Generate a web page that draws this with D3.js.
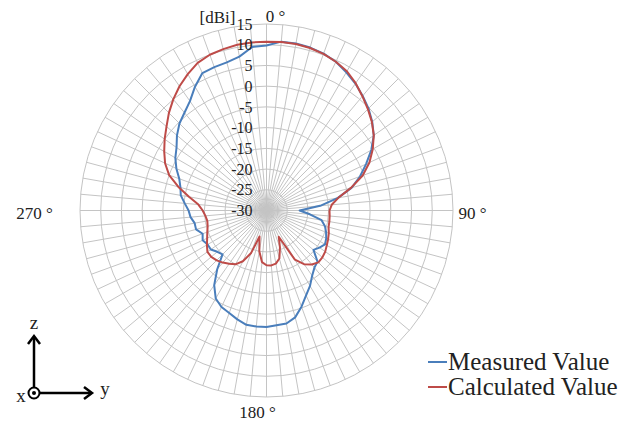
<!DOCTYPE html>
<html>
<head>
<meta charset="utf-8">
<script src="https://cdn.jsdelivr.net/npm/d3@7"></script>
<style>
  body { margin: 0; background: #fff; }
</style>
</head>
<body>
<svg id="pattern" width="642" height="427"></svg>
<script>
// angles in degrees, 0 = top, clockwise
const angles = d3.range(0, 360, 5);

const measured = [
  9.8, 10.9, 10.9, 10.7, 10.3, 9.6, 8.5, 7.4, 6.1, 4.8, 3.3, 1.6,
  -0.8, -3.5, -6.0, -8.7, -12.5, -17.0, -22.0, -19.5, -16.5, -15.4, -14.7, -14.1,
  -13.7, -14.4, -15.2, -12.6, -12.0, -10.8, -9.0, -7.4, -5.3, -3.3, -2.3, -2.2,
  -1.9, -1.9, -2.0, -2.8, -3.7, -4.3, -5.5, -8.0, -11.5, -15.0, -14.5, -13.6,
  -13.6, -13.0, -13.6, -12.4, -12.4, -11.6, -11.2, -10.2, -9.0, -8.5, -7.6, -6.0,
  -4.6, -3.5, -1.8, -0.3, 0.8, 2.2, 4.5, 6.6, 6.8, 7.0, 7.7, 9.6
];

const calculated = [
  10.7, 10.8, 10.8, 10.6, 10.2, 9.6, 8.8, 7.5, 6.0, 4.6, 3.2, 1.6,
  -0.4, -2.6, -5.3, -8.9, -12.4, -14.2, -14.8, -14.7, -14.6, -14.5, -14.0, -13.6,
  -13.2, -12.7, -12.4, -12.3, -13.0, -14.2, -16.3, -23.0, -20.5, -18.0, -17.0, -16.7,
  -16.8, -17.5, -20.0, -23.5, -19.0, -16.5, -15.0, -14.3, -13.6, -13.0, -12.6, -12.6,
  -13.4, -14.2, -14.8, -15.3, -15.5, -15.2, -14.6, -13.5, -11.0, -8.0, -5.0, -3.0,
  -1.5, 0.0, 1.5, 3.3, 5.0, 6.6, 8.0, 9.3, 10.0, 10.3, 10.6, 10.7
];

const rTicks = [-30, -25, -20, -15, -10, -5, 0, 5, 10, 15];
const angleLabels = [0, 90, 180, 270];
const seriesNames = ['Measured Value', 'Calculated Value'];
const seriesColors = ['#4a7ebb', '#be4b48'];

const cx = 266.5, cy = 210.5, outer = 186.5;
const font = "'Liberation Serif', 'Times New Roman', Times, serif";

const svg = d3.select('svg#pattern')
  .style('font-family', font);

const r = d3.scaleLinear().domain([-30, 15]).range([0, outer]);
const a = d3.scaleLinear().domain([0, 360]).range([0, 2 * Math.PI]);

const g = svg.append('g')
  .attr('transform', `translate(${cx},${cy})`);

// rings
g.selectAll('.ring')
  .data(rTicks.slice(1))
  .enter()
  .append('circle')
  .attr('class', 'ring')
  .attr('r', d => r(d))
  .attr('fill', 'none')
  .attr('stroke', '#c4c4c4')
  .attr('stroke-width', 1);

// spokes
g.selectAll('.spoke')
  .data(angles)
  .enter()
  .append('line')
  .attr('class', 'spoke')
  .attr('x1', 0)
  .attr('y1', 0)
  .attr('x2', d => outer * Math.sin(a(d)))
  .attr('y2', d => -outer * Math.cos(a(d)))
  .attr('stroke', '#c4c4c4')
  .attr('stroke-width', 1);

// curves
const line = d3.lineRadial()
  .angle(d => a(d[0]))
  .radius(d => r(d[1]))
  .curve(d3.curveLinearClosed);

[measured, calculated].forEach((vals, i) => {
  g.append('path')
    .datum(angles.map((ang, k) => [ang, vals[k]]))
    .attr('d', line)
    .attr('fill', 'none')
    .attr('stroke', seriesColors[i])
    .attr('stroke-width', 2)
    .attr('stroke-linejoin', 'round');
});

// radial tick labels
g.selectAll('.rtick')
  .data(rTicks)
  .enter()
  .append('text')
  .attr('class', 'rtick')
  .attr('x', -14)
  .attr('y', d => -r(d))
  .attr('dy', '0.35em')
  .attr('text-anchor', 'end')
  .attr('font-family', font)
  .attr('fill', '#222')
  .style('font-size', '16px')
  .text(d => d);

g.append('text')
  .attr('x', -31)
  .attr('y', -r(15) - 1)
  .attr('text-anchor', 'end')
  .attr('font-family', font)
  .attr('fill', '#222')
  .style('font-size', '17px')
  .text('[dBi]');

// angle labels
const labelPos = { 0: [9, -189], 90: [206, 8], 180: [-9, 207], 270: [-232, 8] };
g.selectAll('.alabel')
  .data(angleLabels)
  .enter()
  .append('text')
  .attr('class', 'alabel')
  .attr('x', d => labelPos[d][0])
  .attr('y', d => labelPos[d][1])
  .attr('text-anchor', 'middle')
  .attr('font-family', font)
  .attr('fill', '#222')
  .style('font-size', '17px')
  .text(d => d + ' \u00b0');

// legend
const legend = svg.append('g').attr('transform', 'translate(428,362)');
seriesNames.forEach((name, i) => {
  legend.append('line')
    .attr('x1', 0).attr('x2', 19)
    .attr('y1', i * 25).attr('y2', i * 25)
    .attr('stroke', seriesColors[i])
    .attr('stroke-width', 2);
  legend.append('text')
    .attr('x', 20)
    .attr('y', i * 25 + 8)
    .attr('font-family', font)
    .attr('fill', '#222')
    .style('font-size', '25px')
    .text(name);
});

// coordinate axes indicator
const ax = svg.append('g').attr('transform', 'translate(34,393)');
ax.append('line').attr('x1', 0).attr('y1', -6).attr('x2', 0).attr('y2', -56)
  .attr('stroke', '#000').attr('stroke-width', 2.5);
ax.append('path').attr('d', 'M-6,-49 L0,-57 L6,-49')
  .attr('fill', 'none').attr('stroke', '#000').attr('stroke-width', 2.5);
ax.append('line').attr('x1', 6).attr('y1', 0).attr('x2', 57).attr('y2', 0)
  .attr('stroke', '#000').attr('stroke-width', 2.5);
ax.append('path').attr('d', 'M50,-6 L58,0 L50,6')
  .attr('fill', 'none').attr('stroke', '#000').attr('stroke-width', 2.5);
ax.append('circle').attr('r', 5.5).attr('fill', '#fff')
  .attr('stroke', '#000').attr('stroke-width', 2);
ax.append('circle').attr('r', 2).attr('fill', '#000');
[['z', 0, -64], ['y', 71, 2], ['x', -13, 9]].forEach(t => {
  ax.append('text').attr('x', t[1]).attr('y', t[2]).attr('text-anchor', 'middle')
    .attr('font-family', font).attr('fill', '#222')
    .style('font-size', '19px').text(t[0]);
});
</script>
</body>
</html>
